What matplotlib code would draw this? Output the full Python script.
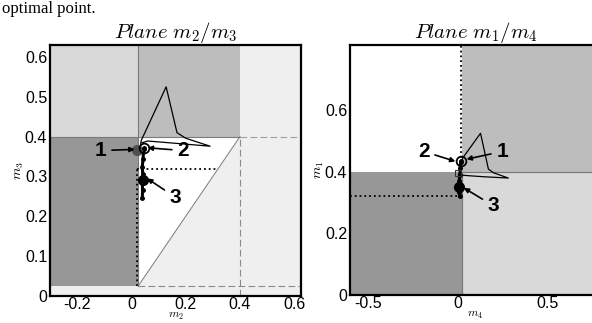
import matplotlib
matplotlib.use('Agg')
import matplotlib.pyplot as plt
from matplotlib.patches import Polygon

plt.rcParams['font.family'] = ['Liberation Sans', 'DejaVu Sans']
plt.rcParams['mathtext.fontset'] = 'cm'

# ---------------- data ----------------
eps = 0.025          # lower threshold
upper = 0.4          # upper threshold
optimum = 0.02       # dotted guide position (x)
optimum_level = 0.32 # dotted guide level (y)

xlim23 = (-0.3, 0.625)
ylim23 = (0.0, 0.63)
xlim14 = (-0.6, 0.8)
ylim14 = (0.0, 0.81)

xticks23 = [-0.2, 0.0, 0.2, 0.4, 0.6]
xticklabels23 = ['-0.2', '0', '0.2', '0.4', '0.6']
yticks23 = [0.0, 0.1, 0.2, 0.3, 0.4, 0.5, 0.6]
yticklabels23 = ['0', '0.1', '0.2', '0.3', '0.4', '0.5', '0.6']
xticks14 = [-0.5, 0.0, 0.5]
xticklabels14 = ['-0.5', '0', '0.5']
yticks14 = [0.0, 0.2, 0.4, 0.6]
yticklabels14 = ['0', '0.2', '0.4', '0.6']

# trajectory in plane m2/m3
traj23_m2 = [0.032, 0.036, 0.128, 0.168, 0.200, 0.290, 0.150, 0.060, 0.040]
traj23_m3 = [0.372, 0.390, 0.525, 0.410, 0.396, 0.376, 0.384, 0.389, 0.385]
desc23_m2 = [0.045, 0.043, 0.040, 0.042, 0.040, 0.041, 0.040]
desc23_m3 = [0.368, 0.345, 0.325, 0.305, 0.285, 0.265, 0.245]
pts23_m2 = [0.020, 0.045, 0.042]   # points 1, 2, 3
pts23_m3 = [0.367, 0.371, 0.290]

# trajectory in plane m1/m4 (x = m4, y = m1)
traj14_m4 = [0.020, 0.030, 0.128, 0.172, 0.200, 0.283, 0.150, 0.050, 0.005]
traj14_m1 = [0.430, 0.445, 0.524, 0.408, 0.396, 0.379, 0.383, 0.387, 0.390]
desc14_m4 = [0.017, 0.015, 0.012, 0.010, 0.012, 0.010, 0.011]
desc14_m1 = [0.430, 0.410, 0.390, 0.370, 0.350, 0.335, 0.320]
pts14_m4 = [0.017, 0.017, 0.010]   # points 1, 2, 3
pts14_m1 = [0.433, 0.433, 0.350]
square14 = (0.000, 0.395)

labels = ['1', '2', '3']
# annotation text positions / arrow tips
ann23_text = [(-0.114, 0.365), (0.191, 0.365), (0.162, 0.248)]
ann23_tip = [(0.012, 0.368), (0.060, 0.372), (0.058, 0.295)]
ann14_text = [(0.25, 0.465), (-0.189, 0.465), (0.20, 0.289)]
ann14_tip = [(0.050, 0.440), (-0.012, 0.433), (0.035, 0.347)]

# ---------------- style ----------------
c_dark = '#979797'
c_med = '#bdbdbd'
c_light = '#d9d9d9'
c_vlight = '#efefef'
c_line = '#7a7a7a'

fig = plt.figure(figsize=(5.92, 3.23), dpi=100)
ax1 = fig.add_axes([50/592, 27/323, 251/592, 251/323])
ax2 = fig.add_axes([350/592, 28/323, 251/592, 250/323])

fig.text(2/592, 1.0 - 1/323, 'optimal point.', family='Liberation Serif',
         fontsize=12, va='top', ha='left')

def style(ax, xlim, ylim, xt, xtl, yt, ytl):
    ax.set_xlim(*xlim)
    ax.set_ylim(*ylim)
    ax.set_xticks(xt)
    ax.set_xticklabels(xtl)
    ax.set_yticks(yt)
    ax.set_yticklabels(ytl)
    ax.tick_params(length=0, pad=2, labelsize=11.5)
    ax.tick_params(axis='x', pad=1)
    for s in ax.spines.values():
        s.set_linewidth(1.6)
        s.set_zorder(10)

# ---- left panel: plane m2/m3 ----
x0, x1 = xlim23
y0, y1 = ylim23
ax1.set_facecolor(c_vlight)
ax1.fill([x0, eps, eps, x0], [upper, upper, y1, y1], color=c_light, lw=0, zorder=0)
ax1.fill([eps, upper, upper, eps], [upper, upper, y1, y1], color=c_med, lw=0, zorder=0)
ax1.fill([x0, eps, eps, x0], [eps, eps, upper, upper], color=c_dark, lw=0, zorder=0)
ax1.add_patch(Polygon([(eps, eps), (eps, upper), (upper, upper)], closed=True,
                      facecolor='white', lw=0, zorder=0))
ax1.plot([eps, eps], [eps, y1], color=c_line, lw=0.8, zorder=1)
ax1.plot([x0, upper], [upper, upper], color=c_line, lw=0.8, zorder=1)
ax1.plot([eps, upper], [eps, upper], color=c_line, lw=0.7, zorder=1)
ax1.plot([upper, upper], [y0, upper], color='#8a8a8a', lw=0.8, ls=(0, (6, 3)), zorder=1)
ax1.plot([upper, x1], [upper, upper], color='#a0a0a0', lw=0.8, ls=(0, (6, 3)), zorder=1)
ax1.plot([eps, x1], [eps, eps], color='#8a8a8a', lw=0.8, ls=(0, (6, 3)), zorder=1)
ax1.plot([optimum, optimum], [eps, optimum_level], color='k', lw=1.3, ls=':', zorder=2)
ax1.plot([optimum, optimum_level], [optimum_level, optimum_level], color='k', lw=1.3, ls=':', zorder=2)

ax1.plot(traj23_m2, traj23_m3, color='k', lw=0.9, zorder=3)
ax1.plot(desc23_m2, desc23_m3, color='k', lw=2.2, marker='o', ms=2.5, zorder=3)
ax1.plot(pts23_m2[0], pts23_m3[0], 'o', color='#505050', ms=7, zorder=4)
ax1.plot(pts23_m2[1], pts23_m3[1], 'o', mfc='none', mec='k', mew=1.3, ms=7, zorder=5)
ax1.plot(pts23_m2[1], pts23_m3[1], 'o', color='k', ms=2.5, zorder=5)
ax1.plot(pts23_m2[2], pts23_m3[2], 'o', color='k', ms=7, zorder=4)

for lab, t, p in zip(labels, ann23_text, ann23_tip):
    ax1.annotate(lab, xy=p, xytext=t, ha='center', va='center', fontsize=15,
                 fontweight='bold', zorder=6,
                 arrowprops=dict(arrowstyle='-|>', color='k', lw=1.2,
                                 mutation_scale=7, shrinkA=2, shrinkB=0))

style(ax1, xlim23, ylim23, xticks23, xticklabels23, yticks23, yticklabels23)
ax1.set_title(r'$Plane\ m_2/m_3$', fontsize=15, pad=5)
ax1.set_xlabel(r'$m_2$', fontsize=8.5, labelpad=-1.5)
ax1.set_ylabel(r'$m_3$', fontsize=10, labelpad=-1)

# ---- right panel: plane m1/m4 ----
x0, x1 = xlim14
y0, y1 = ylim14
ax2.fill([x0, eps, eps, x0], [upper, upper, y1, y1], color='white', lw=0, zorder=0)
ax2.fill([eps, x1, x1, eps], [upper, upper, y1, y1], color=c_med, lw=0, zorder=0)
ax2.fill([x0, eps, eps, x0], [y0, y0, upper, upper], color=c_dark, lw=0, zorder=0)
ax2.fill([eps, x1, x1, eps], [y0, y0, upper, upper], color=c_light, lw=0, zorder=0)
ax2.plot([eps, eps], [y0, upper], color=c_line, lw=0.9, zorder=1)
ax2.plot([eps, x1], [upper, upper], color=c_line, lw=0.9, zorder=1)
ax2.plot([optimum, optimum], [optimum_level, y1], color='k', lw=1.3, ls=':', zorder=2)
ax2.plot([x0, optimum], [optimum_level, optimum_level], color='k', lw=1.3, ls=':', zorder=2)

ax2.plot(traj14_m4, traj14_m1, color='k', lw=0.9, zorder=3)
ax2.plot(desc14_m4, desc14_m1, color='k', lw=2.2, marker='o', ms=2.5, zorder=3)
ax2.plot(square14[0], square14[1], 's', mfc='none', mec='#333333', ms=5, mew=0.8, zorder=4)
ax2.plot(pts14_m4[0], pts14_m1[0], 'o', mfc='none', mec='k', mew=1.3, ms=7, zorder=5)
ax2.plot(pts14_m4[1], pts14_m1[1], 'o', color='k', ms=2.5, zorder=5)
ax2.plot(pts14_m4[2], pts14_m1[2], 'o', color='k', ms=7, zorder=4)

for lab, t, p in zip(labels, ann14_text, ann14_tip):
    ax2.annotate(lab, xy=p, xytext=t, ha='center', va='center', fontsize=15,
                 fontweight='bold', zorder=6,
                 arrowprops=dict(arrowstyle='-|>', color='k', lw=1.2,
                                 mutation_scale=7, shrinkA=2, shrinkB=0))

style(ax2, xlim14, ylim14, xticks14, xticklabels14, yticks14, yticklabels14)
ax2.set_title(r'$Plane\ m_1/m_4$', fontsize=15, pad=5)
ax2.set_xlabel(r'$m_4$', fontsize=8.5, labelpad=-1.5)
ax2.set_ylabel(r'$m_1$', fontsize=10, labelpad=-1)

fig.savefig('out.png', dpi=100)
